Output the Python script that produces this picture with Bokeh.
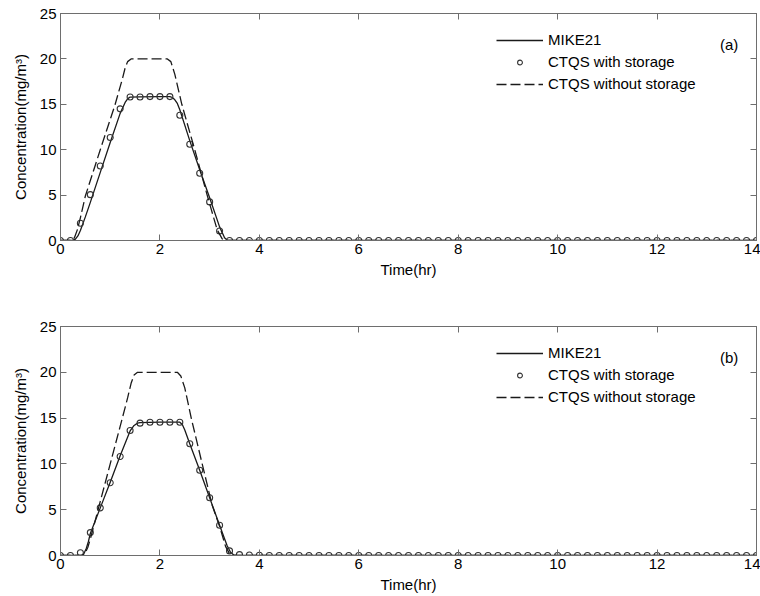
from bokeh.plotting import figure
from bokeh.models import Range1d, LinearAxis, Legend, LegendItem, Label, FixedTicker
from bokeh.layouts import column
from bokeh.embed import file_html
from bokeh.resources import INLINE

# ---------------- data ----------------
x_ticks = [0, 2, 4, 6, 8, 10, 12, 14]
y_ticks = [0, 5, 10, 15, 20, 25]

# sampling times of the CTQS-with-storage markers (hr)
t_marker = [0.0, 0.2, 0.4, 0.6, 0.8, 1.0, 1.2, 1.4, 1.6, 1.8,
            2.0, 2.2, 2.4, 2.6, 2.8, 3.0, 3.2, 3.4, 3.6, 3.8,
            4.0, 4.2, 4.4, 4.6, 4.8, 5.0, 5.2, 5.4, 5.6, 5.8,
            6.0, 6.2, 6.4, 6.6, 6.8, 7.0, 7.2, 7.4, 7.6, 7.8,
            8.0, 8.2, 8.4, 8.6, 8.8, 9.0, 9.2, 9.4, 9.6, 9.8,
            10.0, 10.2, 10.4, 10.6, 10.8, 11.0, 11.2, 11.4, 11.6, 11.8,
            12.0, 12.2, 12.4, 12.6, 12.8, 13.0, 13.2, 13.4, 13.6, 13.8,
            14.0]

# panel (a)
a_ctqs_storage = [0.0, 0.0, 1.9, 5.05, 8.2, 11.35, 14.5, 15.8, 15.8, 15.85,
                  15.85, 15.85, 13.8, 10.6, 7.4, 4.25, 1.05, 0.0, 0.0, 0.0,
                  0.0, 0.0, 0.0, 0.0, 0.0, 0.0, 0.0, 0.0, 0.0, 0.0,
                  0.0, 0.0, 0.0, 0.0, 0.0, 0.0, 0.0, 0.0, 0.0, 0.0,
                  0.0, 0.0, 0.0, 0.0, 0.0, 0.0, 0.0, 0.0, 0.0, 0.0,
                  0.0, 0.0, 0.0, 0.0, 0.0, 0.0, 0.0, 0.0, 0.0, 0.0,
                  0.0, 0.0, 0.0, 0.0, 0.0, 0.0, 0.0, 0.0, 0.0, 0.0,
                  0.0]
a_mike_t = [0, 0.25, 0.3, 0.35, 0.4, 0.5, 0.6, 0.8, 1.0, 1.2, 1.3, 1.35, 1.4, 1.6,
            2.0, 2.2, 2.25, 2.3, 2.35, 2.4, 2.6, 2.8, 3.0, 3.2, 3.3, 3.36, 14]
a_mike_v = [0, 0, 0.15, 0.5, 1.1, 2.6, 4.2, 7.5, 10.8, 14.0, 15.2, 15.6, 15.8, 15.82,
            15.85, 15.85, 15.75, 15.5, 15.1, 14.4, 11.0, 7.8, 4.7, 1.5, 0.3, 0, 0]
a_nostore_t = [0, 0.22, 0.28, 0.34, 0.4, 0.5, 0.8, 1.1, 1.25, 1.3, 1.35, 1.42,
               2.15, 2.22, 2.3, 2.44, 2.7, 2.95, 3.15, 3.25, 3.3, 14]
a_nostore_v = [0, 0, 0.3, 1.2, 2.5, 4.9, 10.0, 15.0, 17.9, 19.0, 19.7, 20,
               20, 19.7, 18.3, 15.0, 10.0, 5.0, 1.2, 0.2, 0, 0]

# panel (b)
b_ctqs_storage = [0.0, 0.0, 0.3, 2.5, 5.2, 7.95, 10.8, 13.65, 14.45, 14.55,
                  14.55, 14.55, 14.55, 12.2, 9.3, 6.3, 3.3, 0.5, 0.1, 0.05,
                  0.02, 0.0, 0.0, 0.0, 0.0, 0.0, 0.0, 0.0, 0.0, 0.0,
                  0.0, 0.0, 0.0, 0.0, 0.0, 0.0, 0.0, 0.0, 0.0, 0.0,
                  0.0, 0.0, 0.0, 0.0, 0.0, 0.0, 0.0, 0.0, 0.0, 0.0,
                  0.0, 0.0, 0.0, 0.0, 0.0, 0.0, 0.0, 0.0, 0.0, 0.0,
                  0.0, 0.0, 0.0, 0.0, 0.0, 0.0, 0.0, 0.0, 0.0, 0.0,
                  0.0]
b_mike_t = [0, 0.42, 0.47, 0.52, 0.56, 0.6, 0.8, 1.0, 1.2, 1.4, 1.48, 1.55, 1.6,
            2.0, 2.4, 2.45, 2.5, 2.6, 2.8, 3.0, 3.2, 3.35, 3.42, 3.48, 3.55, 14]
b_mike_v = [0, 0, 0.2, 0.8, 1.5, 2.4, 5.2, 8.0, 10.9, 13.6, 14.2, 14.45, 14.5,
            14.55, 14.55, 14.3, 13.7, 12.2, 9.3, 6.3, 3.3, 1.1, 0.35, 0.08, 0, 0]
b_nostore_t = [0, 0.45, 0.5, 0.55, 0.6, 0.8, 1.0, 1.2, 1.35, 1.42, 1.48, 1.55,
               2.35, 2.42, 2.5, 2.63, 2.85, 3.05, 3.2, 3.32, 3.4, 3.45, 14]
b_nostore_v = [0, 0, 0.3, 0.9, 1.8, 5.9, 10.0, 14.1, 17.2, 18.8, 19.7, 20,
               20, 19.6, 18.3, 15.0, 10.0, 5.5, 3.2, 1.0, 0.2, 0, 0]

labels = ["MIKE21", "CTQS with storage", "CTQS without storage"]

FONT = "Liberation Sans"
INK = "#1a1a1a"
FRAME = "#6e6e6e"


def make_panel(tag, mike_t, mike_v, store_v, nost_t, nost_v,
               border_top, border_bottom, frame_h):
    p = figure(output_backend="svg", toolbar_location=None,
               frame_width=696, frame_height=frame_h,
               min_border_left=60, min_border_right=4,
               min_border_top=border_top, min_border_bottom=border_bottom,
               x_range=Range1d(0, 14), y_range=Range1d(0, 25),
               background_fill_color="white", border_fill_color="white")
    p.grid.visible = False
    p.outline_line_color = FRAME
    p.outline_line_width = 1

    for ax in (p.xaxis[0], p.yaxis[0]):
        ax.axis_line_color = FRAME
        ax.major_tick_line_color = FRAME
        ax.major_tick_in = 6
        ax.major_tick_out = 0
        ax.minor_tick_line_color = None
        ax.major_label_text_font = FONT
        ax.major_label_text_font_size = "15px"
        ax.major_label_text_color = "black"
        ax.axis_label_text_font = FONT
        ax.axis_label_text_font_size = "15px"
        ax.axis_label_text_font_style = "normal"
        ax.axis_label_text_color = "black"
    p.xaxis[0].ticker = FixedTicker(ticks=x_ticks)
    p.yaxis[0].ticker = FixedTicker(ticks=y_ticks)
    p.xaxis[0].axis_label = "Time(hr)"
    p.xaxis[0].major_label_standoff = 3
    p.xaxis[0].axis_label_standoff = 4
    p.yaxis[0].axis_label = "Concentration(mg/m³)"
    p.yaxis[0].major_label_standoff = 4
    p.yaxis[0].axis_label_standoff = 8

    # mirrored ticks on top and right
    top = LinearAxis(ticker=FixedTicker(ticks=x_ticks))
    right = LinearAxis(ticker=FixedTicker(ticks=y_ticks))
    for ax in (top, right):
        ax.axis_line_color = FRAME
        ax.major_tick_line_color = FRAME
        ax.major_tick_in = 6
        ax.major_tick_out = 0
        ax.minor_tick_line_color = None
        ax.major_label_text_font_size = "0px"
        ax.major_label_text_alpha = 0
        ax.major_label_standoff = 0
    p.add_layout(top, "above")
    p.add_layout(right, "right")

    r_mike = p.line(mike_t, mike_v, line_color=INK, line_width=1.3)
    r_store = p.scatter(t_marker, store_v, marker="circle", size=6,
                        fill_color=None, line_color="#333333", line_width=1.1)
    r_nost = p.line(nost_t, nost_v, line_color=INK, line_width=1.3,
                    line_dash="10 4")

    legend = Legend(items=[LegendItem(label=labels[0], renderers=[r_mike]),
                           LegendItem(label=labels[1], renderers=[r_store]),
                           LegendItem(label=labels[2], renderers=[r_nost])],
                    location=(436, frame_h - 81),
                    padding=0, margin=0, spacing=1,
                    glyph_width=47, glyph_height=12, label_height=21,
                    label_standoff=5,
                    label_text_font=FONT, label_text_font_size="15px",
                    label_text_color="black",
                    border_line_color=None, background_fill_alpha=0)
    p.add_layout(legend, "center")

    p.add_layout(Label(x=13.45, y=21.6, text=tag, text_font=FONT,
                       text_font_size="15px", text_color="black",
                       text_align="center", text_baseline="middle"))
    return p


pa = make_panel("(a)", a_mike_t, a_mike_v, a_ctqs_storage, a_nostore_t, a_nostore_v,
                13, 58, 227)
pb = make_panel("(b)", b_mike_t, b_mike_v, b_ctqs_storage, b_nostore_t, b_nostore_v,
                28, 41, 229)

layout = column(pa, pb, spacing=0)
open("out.html", "w").write(file_html(layout, INLINE))
